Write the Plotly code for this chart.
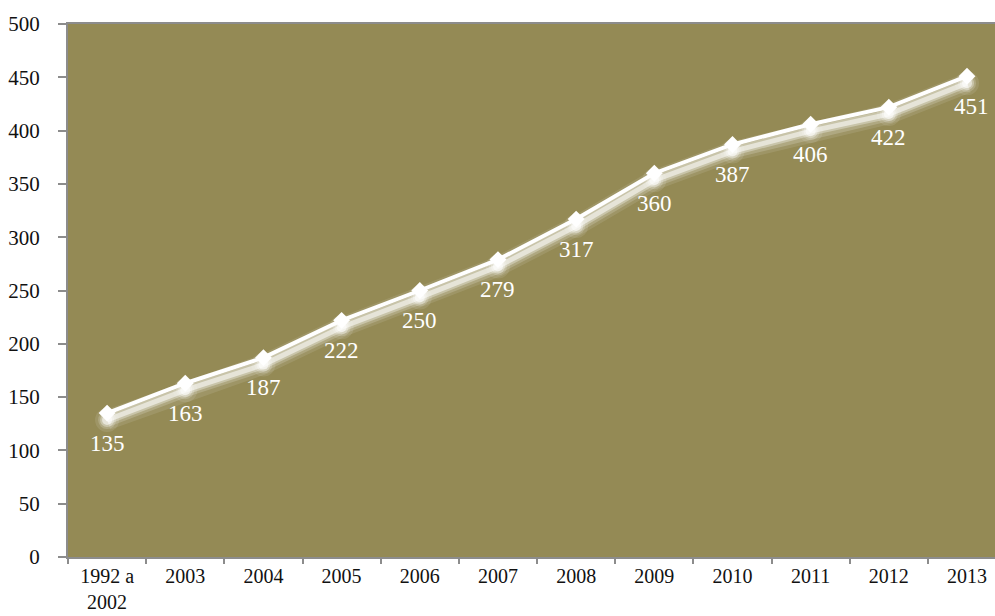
import plotly.graph_objects as go

# Yearly totals
years = ["1992 a<br>2002", "2003", "2004", "2005", "2006", "2007",
         "2008", "2009", "2010", "2011", "2012", "2013"]
totals = [135, 163, 187, 222, 250, 279, 317, 360, 387, 406, 422, 451]
y_ticks = [0, 50, 100, 150, 200, 250, 300, 350, 400, 450, 500]

BG = "#948A55"
AXIS = "#8C8C8C"
SERIF = "Liberation Serif, Times New Roman, serif"

fig = go.Figure()

# soft white haze under the line, drawn on a slightly shifted overlay axis
for width, alpha, msize in [(20, 0.10, 24), (14, 0.18, 18), (9, 0.32, 14), (5, 0.55, 10)]:
    fig.add_trace(go.Scatter(
        x=years, y=totals, yaxis="y2", mode="lines+markers",
        line=dict(color=f"rgba(255,255,255,{alpha})", width=width),
        marker=dict(symbol="circle", size=msize, color=f"rgba(255,255,255,{alpha})"),
        hoverinfo="skip", showlegend=False,
    ))

# main series
fig.add_trace(go.Scatter(
    x=years, y=totals, mode="lines+markers",
    line=dict(color="white", width=4),
    marker=dict(symbol="diamond", size=13, color="white"),
    showlegend=False,
))

# value labels under each point (x given as category index)
for i, v in enumerate(totals):
    fig.add_annotation(
        x=i, y=v, text=str(v), showarrow=False, yshift=-30,
        xshift=4 if i == len(totals) - 1 else 0,
        font=dict(family=SERIF, size=23, color="white"),
    )

n = len(years)
fig.update_layout(
    width=995, height=616,
    margin=dict(l=68, r=0, t=24, b=59),
    paper_bgcolor="white",
    plot_bgcolor=BG,
    font=dict(family=SERIF, size=20, color="#111111"),
    xaxis=dict(
        type="category", range=[-0.5, n - 0.642], automargin=False,
        showgrid=False, zeroline=False,
        showline=True, linecolor=AXIS, linewidth=2, mirror=True,
        ticks="outside", tickson="boundaries", ticklen=5, tickcolor=AXIS, tickwidth=2,
        ticklabelstandoff=0,
        tickfont=dict(family=SERIF, size=20, color="#111111"),
    ),
    yaxis=dict(
        range=[0, 500], tickvals=y_ticks, automargin=False,
        showgrid=False, zeroline=False,
        showline=True, linecolor=AXIS, linewidth=2,
        ticks="outside", ticklen=8, tickcolor=AXIS, tickwidth=2,
        ticklabelstandoff=14,
        tickfont=dict(family=SERIF, size=21, color="#111111"),
    ),
    yaxis2=dict(
        overlaying="y", range=[6.5, 506.5], visible=False,
        showgrid=False, zeroline=False,
    ),
)

fig.write_html("out.html")
